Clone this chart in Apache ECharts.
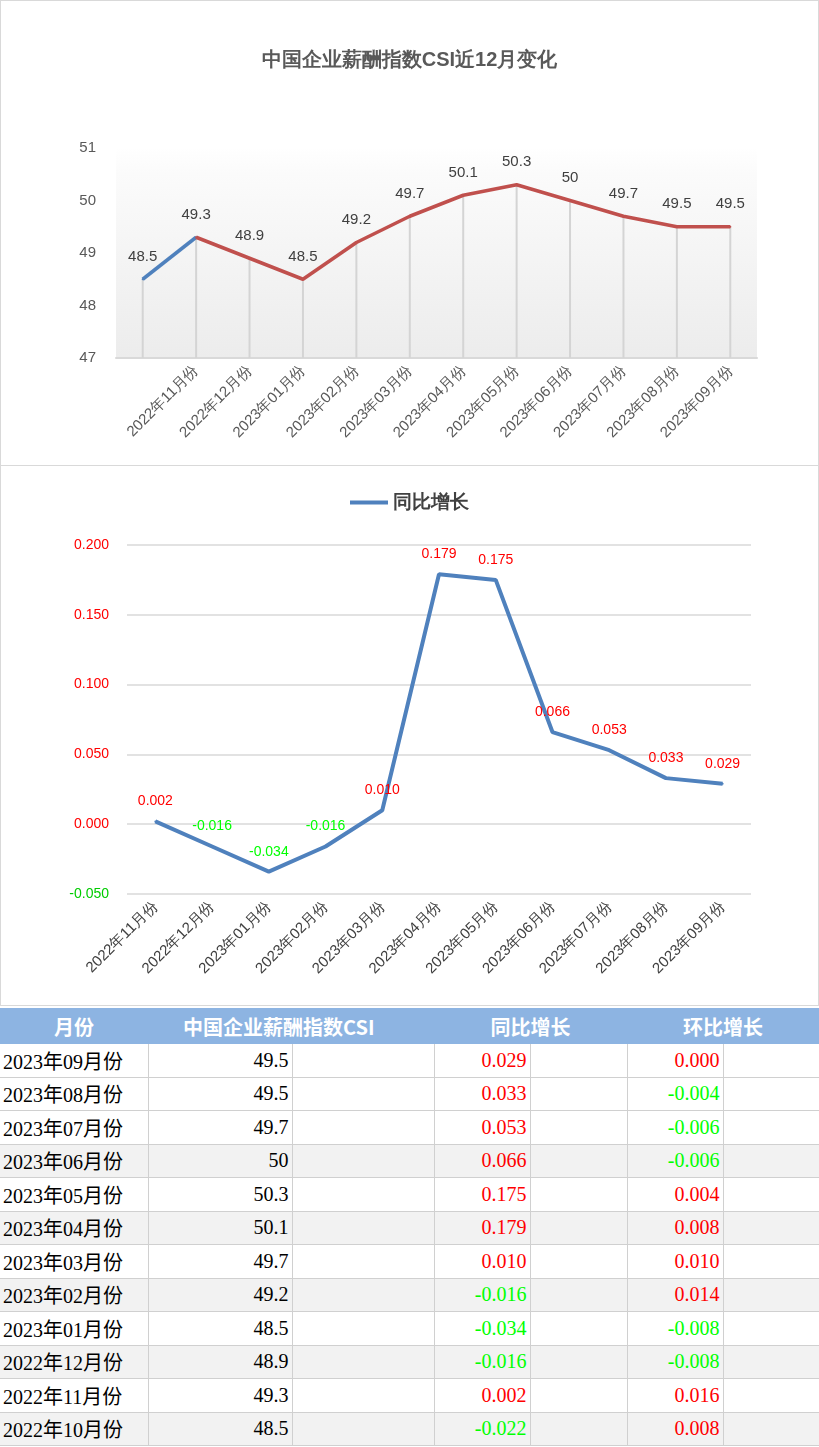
<!DOCTYPE html>
<html><head><meta charset="utf-8">
<script src="https://cdn.jsdelivr.net/npm/echarts@6/dist/echarts.min.js"></script>
<style>
body{margin:0;background:#fff;width:819px;height:1447px;overflow:hidden;font-family:"Noto Sans CJK SC",sans-serif}
#c1{position:absolute;left:0;top:0;width:817px;height:464px;border:1px solid #d9d9d9}
#c2{position:absolute;left:0;top:465px;width:817px;height:539px;border:1px solid #d9d9d9}
#t{position:absolute;left:0;top:1008px;width:819px;border-collapse:collapse;table-layout:fixed}
#t td{border-right:1px solid #d0d0d0;border-bottom:1px solid #d0d0d0;height:32.5px;padding:0 3px;font-family:"Liberation Serif","Noto Sans CJK SC",serif;font-size:20px;color:#000;white-space:nowrap;overflow:hidden}
#t tr.h td{background:#8db4e2;color:#fff;font-family:"Noto Sans CJK SC",sans-serif;font-weight:bold;font-size:20px;height:36px;border:none;text-align:center}
#t tr.g td{background:#f2f2f2}
</style></head><body>
<div id="c1"></div><div id="c2"></div>
<table id="t"></table>
<script>
const monthsAll=["2022年10月份","2022年11月份","2022年12月份","2023年01月份","2023年02月份","2023年03月份","2023年04月份","2023年05月份","2023年06月份","2023年07月份","2023年08月份","2023年09月份"];
const csi=[48.5,49.3,48.9,48.5,49.2,49.7,50.1,50.3,50,49.7,49.5,49.5];
const yoyMonths=monthsAll.slice(1);
const yoy=[0.002,-0.016,-0.034,-0.016,0.010,0.179,0.175,0.066,0.053,0.033,0.029];
const yoyTable=[-0.022,0.002,-0.016,-0.034,-0.016,0.010,0.179,0.175,0.066,0.053,0.033,0.029];
const mom=[0.008,0.016,-0.008,-0.008,0.014,0.010,0.008,0.004,-0.006,-0.006,-0.004,0.000];
const headers=["月份","中国企业薪酬指数CSI","同比增长","环比增长"];

const RED='#ff0000',GREEN='#00ff00';
const c1=echarts.init(document.getElementById('c1'));
c1.setOption({
 animation:false,
 title:{text:'中国企业薪酬指数CSI近12月变化',left:'center',top:44,textStyle:{fontSize:20,fontWeight:'bold',color:'#595959'}},
 grid:{left:115,right:61,top:147,bottom:107,show:true,borderWidth:0,
   backgroundColor:{type:'linear',x:0,y:0,x2:0,y2:1,colorStops:[{offset:0,color:'#ffffff'},{offset:0.12,color:'#fbfbfb'},{offset:1,color:'#ececec'}]}},
 xAxis:{type:'category',data:monthsAll,axisLine:{lineStyle:{color:'#d9d9d9',width:2}},axisTick:{show:false},
   axisLabel:{rotate:45,fontSize:15,color:'#595959',interval:(i)=>i>0,margin:10}},
 yAxis:{type:'value',min:47,max:51,interval:1,splitLine:{show:false},axisLabel:{fontSize:15,color:'#595959',margin:20}},
 series:[
  {type:'bar',data:csi,barWidth:2,itemStyle:{color:'#d4d4d4'},silent:true,z:1},
  {type:'line',data:csi.map((v,i)=>i<=1?v:'-'),symbol:'circle',symbolSize:2,showSymbol:true,itemStyle:{color:'#4f81bd'},lineStyle:{color:'#4f81bd',width:3.5},z:3,
   label:{show:true,position:'top',distance:14,fontSize:15,color:'#404040',formatter:p=>p.dataIndex===0?String(p.value):''}},
  {type:'line',data:csi.map((v,i)=>i>=1?v:'-'),symbol:'circle',symbolSize:2,showSymbol:true,itemStyle:{color:'#c0504d'},lineStyle:{color:'#c0504d',width:3.5},z:3,
   label:{show:true,position:'top',distance:14,fontSize:15,color:'#404040'}}
 ]
});
const c2=echarts.init(document.getElementById('c2'));
c2.setOption({
 animation:false,
 legend:{top:22,left:'center',itemWidth:38,itemHeight:4,icon:'rect',textStyle:{fontSize:19,fontWeight:'bold',color:'#404040'},data:['同比增长']},
 grid:{left:126,right:67,top:79,bottom:111},
 xAxis:{type:'category',data:yoyMonths,axisLine:{show:false},axisTick:{show:false},
   axisLabel:{rotate:45,fontSize:15,color:'#404040',interval:0,margin:10}},
 yAxis:{type:'value',min:-0.05,max:0.2,interval:0.05,splitLine:{lineStyle:{color:'#d9d9d9',width:1.5}},
   axisLabel:{fontSize:14,margin:18,formatter:v=>v.toFixed(3),color:v=>Number(v)<0?'#00cc00':RED}},
 series:[{name:'同比增长',type:'line',symbol:'circle',symbolSize:2,showSymbol:true,lineStyle:{color:'#4f81bd',width:4},itemStyle:{color:'#4f81bd'},
   data:yoy.map(v=>({value:v,label:{color:v<0?GREEN:RED}})),
   label:{show:true,position:'top',distance:12,fontSize:14,formatter:p=>p.value.toFixed(3)}}]
});

function fmt(v){return v.toFixed(3);}
let html='<colgroup><col style="width:148px"><col style="width:144px"><col style="width:142px"><col style="width:96px"><col style="width:97px"><col style="width:96px"><col style="width:96px"></colgroup>';
html+='<tr class="h"><td>'+headers[0]+'</td><td colspan="2" style="text-align:left;padding-left:35px">'+headers[1]+'</td><td colspan="2">'+headers[2]+'</td><td colspan="2">'+headers[3]+'</td></tr>';
for(let r=0;r<12;r++){
 const i=11-r;
 const g=(r%2===1&&r>=3)?' class="g"':'';
 html+='<tr'+g+'><td>'+monthsAll[i]+'</td><td style="text-align:right">'+csi[i]+'</td><td></td>'+
 '<td style="text-align:right;color:'+(yoyTable[i]<0?GREEN:RED)+'">'+fmt(yoyTable[i])+'</td><td></td>'+
 '<td style="text-align:right;color:'+(mom[i]<0?GREEN:RED)+'">'+fmt(mom[i])+'</td><td></td></tr>';
}
document.getElementById('t').innerHTML=html;
</script></body></html>
